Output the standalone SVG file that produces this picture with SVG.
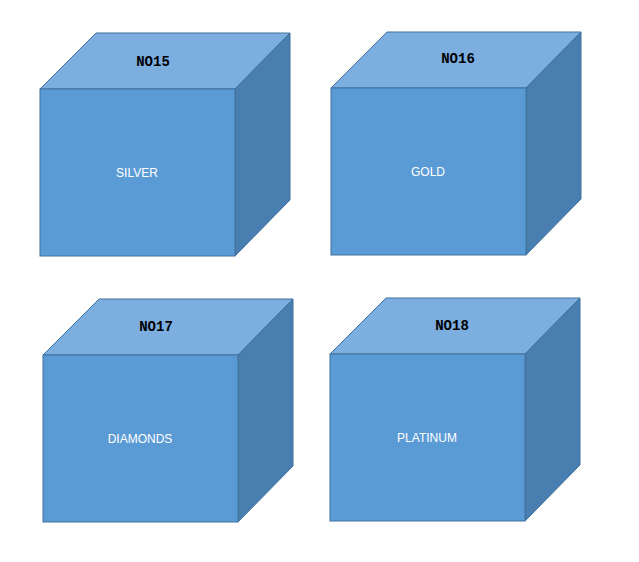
<svg xmlns="http://www.w3.org/2000/svg" width="639" height="562" viewBox="0 0 639 562">
<style>
.f{fill:#5b9bd5;stroke:#41719c;stroke-width:1}
.t{fill:#7cafe0;stroke:#41719c;stroke-width:1}
.r{fill:#497eb0;stroke:#41719c;stroke-width:1}
.n{font-family:"Liberation Mono",monospace;font-weight:bold;font-size:14px;fill:#000;text-anchor:middle}
.l{font-family:"Liberation Sans",Arial,sans-serif;font-size:12px;fill:#fff;text-anchor:middle}
</style>
<rect width="639" height="562" fill="#fff"/>
<g id="cube15">
<polygon class="t" points="40,89 96,33 290,33 235,89"/>
<polygon class="r" points="235,89 290,33 290,200 235,256"/>
<rect class="f" x="40" y="89" width="195" height="167"/>
<text class="n" x="153" y="66">NO15</text>
<text class="l" x="137" y="177">SILVER</text>
</g>
<g id="cube16">
<polygon class="t" points="331,88 387,32 581,32 526,88"/>
<polygon class="r" points="526,88 581,32 581,199 526,255"/>
<rect class="f" x="331" y="88" width="195" height="167"/>
<text class="n" x="458" y="63">NO16</text>
<text class="l" x="428" y="176">GOLD</text>
</g>
<g id="cube17">
<polygon class="t" points="43,355 99,299 293,299 238,355"/>
<polygon class="r" points="238,355 293,299 293,466 238,522"/>
<rect class="f" x="43" y="355" width="195" height="167"/>
<text class="n" x="156" y="331">NO17</text>
<text class="l" x="140" y="443">DIAMONDS</text>
</g>
<g id="cube18">
<polygon class="t" points="330,354 386,298 580,298 525,354"/>
<polygon class="r" points="525,354 580,298 580,465 525,521"/>
<rect class="f" x="330" y="354" width="195" height="167"/>
<text class="n" x="452" y="330">NO18</text>
<text class="l" x="427" y="442">PLATINUM</text>
</g>
<g id="connectors"/>
</svg>
